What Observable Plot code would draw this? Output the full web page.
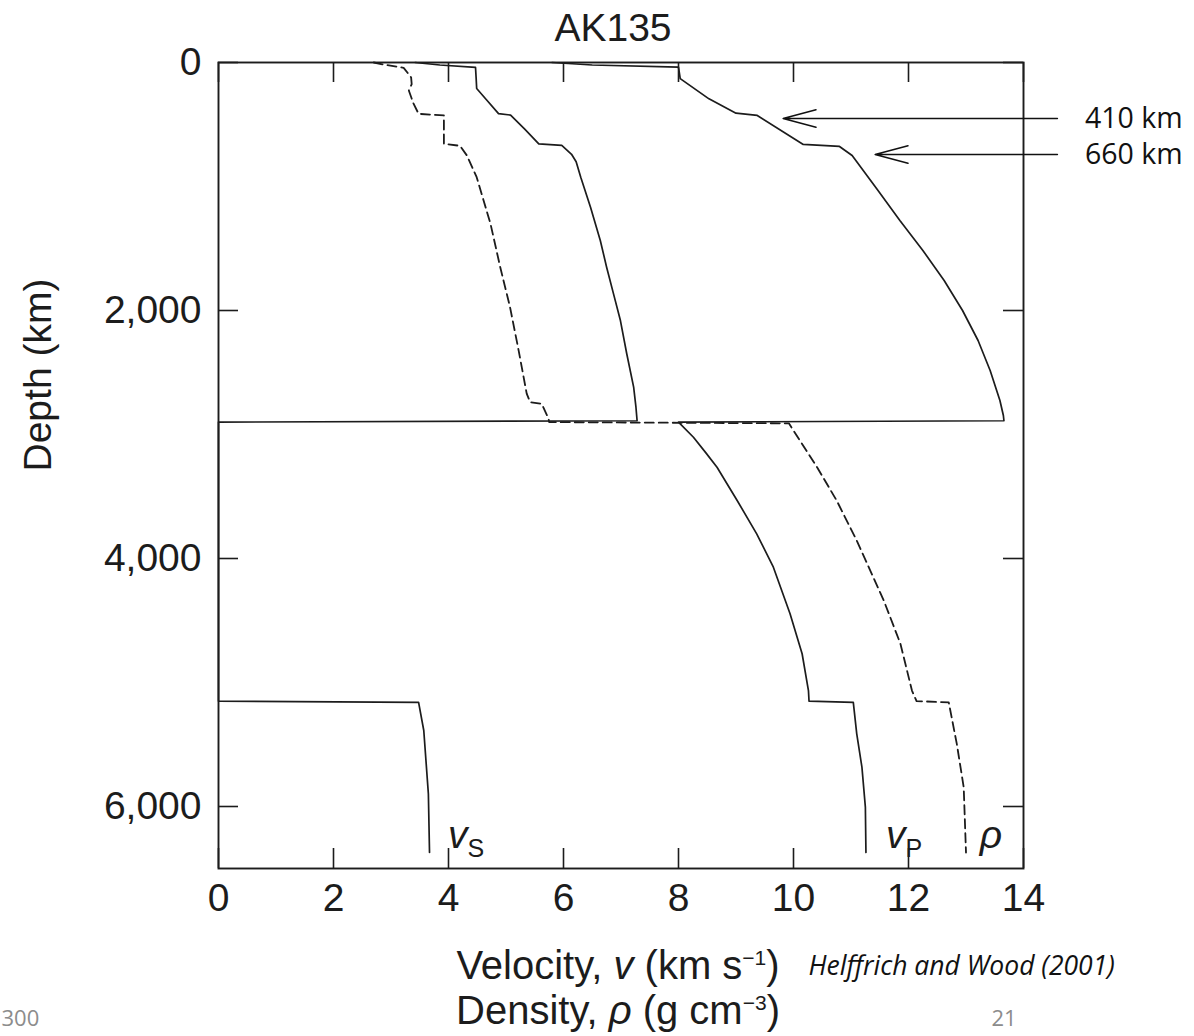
<!DOCTYPE html>
<html>
<head>
<meta charset="utf-8">
<script src="https://cdn.jsdelivr.net/npm/d3@7"></script>
<script src="https://cdn.jsdelivr.net/npm/@observablehq/plot@0.6"></script>
<style>
  html, body { margin: 0; padding: 0; background: #fff; }
  #chart svg { display: block; }
</style>
</head>
<body>
<div id="chart"></div>
<script>
// ---------- data ----------
const xTicks = [0, 2, 4, 6, 8, 10, 12, 14];
const yTicks = [0, 2000, 4000, 6000];

// [depth (km), value]
const vsProfile = [
  [0, 3.42], [20, 3.85], [40, 4.47], [120, 4.48], [210, 4.49], [300, 4.66], [412, 4.87], [424, 5.08],
  [540, 5.33], [656, 5.57], [669, 5.97], [740, 6.14], [800, 6.22], [925, 6.30], [1167, 6.47], [1435, 6.64],
  [1651, 6.75], [1866, 6.87], [2081, 6.99], [2349, 7.10], [2618, 7.22], [2780, 7.26], [2889, 7.28],
  [2900, 0], [5150, 0], [5160, 3.48], [5387, 3.57], [5898, 3.65], [6371, 3.67]
];
const vpProfile = [
  [0, 5.80], [20, 6.50], [38, 8.00], [130, 8.03], [293, 8.53], [409, 9.00], [427, 9.37], [661, 10.17],
  [677, 10.80], [750, 11.02], [1032, 11.47], [1274, 11.85], [1516, 12.25], [1758, 12.62], [2000, 12.94],
  [2242, 13.21], [2484, 13.42], [2726, 13.59], [2847, 13.65], [2889, 13.66], [2900, 8.00], [3022, 8.26],
  [3150, 8.48], [3264, 8.67], [3532, 9.02], [3801, 9.36], [4070, 9.65], [4446, 9.94], [4768, 10.15],
  [5065, 10.26], [5150, 10.27], [5160, 11.04], [5414, 11.10], [5683, 11.19], [6005, 11.25], [6371, 11.26]
];
const rhoProfile = [
  [0, 2.70], [15, 2.85], [43, 3.22], [120, 3.35], [175, 3.36], [226, 3.31], [330, 3.39], [414, 3.48],
  [427, 3.92], [656, 3.92], [672, 4.20], [750, 4.32], [925, 4.49], [1300, 4.73], [1651, 4.90],
  [1973, 5.07], [2323, 5.22], [2670, 5.36], [2740, 5.42], [2752, 5.62], [2873, 5.74], [2900, 5.75],
  [2910, 9.92], [3264, 10.41], [3532, 10.75], [3855, 11.10], [4339, 11.57], [4688, 11.86], [5065, 12.06],
  [5150, 12.14], [5160, 12.70], [5495, 12.84], [5844, 12.96], [6371, 13.00]
];

// curve labels: start x (value), baseline depth (km)
const curveLabels = [
  {x: 3.99, depth: 6335, parts: [{t: "v", italic: true}, {t: "S", size: 25, dy: 9}]},
  {x: 11.61, depth: 6335, parts: [{t: "v", italic: true}, {t: "P", size: 25, dy: 9}]},
  {x: 13.24, depth: 6335, parts: [{t: "ρ", italic: true}]}
];

// discontinuity annotations (arrows from the right margin to the vP curve)
const arrowNotes = [
  {label: "410 km", from: 14.59, to: 9.82, depth: 452, textX: 15.07},
  {label: "660 km", from: 14.59, to: 11.42, depth: 742, textX: 15.07}
];

const titleText = "AK135";
const yLabel = "Depth (km)";
const xLabelLine1 = [{t: "Velocity, "}, {t: "v", italic: true}, {t: " (km s"}, {t: "−1", size: 21, dy: -14}, {t: ")", dy: 14}];
const xLabelLine2 = [{t: "Density, "}, {t: "ρ", italic: true}, {t: " (g cm"}, {t: "−3", size: 21, dy: -14}, {t: ")", dy: 14}];
const sourceText = "Helffrich and Wood (2001)";
const footerLeft = "300";
const footerRight = "21";

// ---------- layout ----------
const W = 1194, H = 1036, ML = 218, MR = 171, MT = 62, MB = 168;
const plotW = W - ML - MR, plotH = H - MT - MB;
const tickLen = 20;
const ink = "#1c1c1c";
const sans = "'Liberation Sans', Arial, Helvetica, sans-serif";
const slideFont = "'Open Sans', 'Noto Sans', sans-serif";
const joinParts = parts => parts.map(p => p.t).join("");

const chart = Plot.plot({
  width: W, height: H,
  marginLeft: ML, marginRight: MR, marginTop: MT, marginBottom: MB,
  style: {fontFamily: sans, color: ink, background: "#fff"},
  x: {domain: [0, 14]},
  y: {domain: [0, 6500], reverse: true},
  marks: [
    Plot.line(vsProfile, {x: d => d[1], y: d => d[0], stroke: ink, strokeWidth: 1.7}),
    Plot.line(vpProfile, {x: d => d[1], y: d => d[0], stroke: ink, strokeWidth: 1.7}),
    Plot.line(rhoProfile, {x: d => d[1], y: d => d[0], stroke: ink, strokeWidth: 1.8, strokeDasharray: "9,5"}),
    Plot.frame({stroke: ink, strokeWidth: 1.9}),
    // inward ticks on all four sides
    Plot.tickX(xTicks, {x: d => d, insetTop: plotH - tickLen, stroke: ink, strokeWidth: 1.6}),
    Plot.tickX(xTicks, {x: d => d, insetBottom: plotH - tickLen, stroke: ink, strokeWidth: 1.6}),
    Plot.tickY(yTicks, {y: d => d, insetRight: plotW - tickLen, stroke: ink, strokeWidth: 1.6}),
    Plot.tickY(yTicks, {y: d => d, insetLeft: plotW - tickLen, stroke: ink, strokeWidth: 1.6}),
    Plot.axisX({anchor: "bottom", ticks: xTicks, tickSize: 0, tickPadding: 15, fontSize: 39, label: null}),
    Plot.axisY({anchor: "left", ticks: yTicks, tickSize: 0, tickPadding: 17, fontSize: 39,
      tickFormat: d3.format(","), label: null}),
    // title & axis labels
    Plot.text([titleText], {text: d => d, frameAnchor: "top", lineAnchor: "top", dx: -8, dy: -49, fontSize: 39, fill: ink}),
    Plot.text([yLabel], {text: d => d, frameAnchor: "left", rotate: -90, dx: -180, dy: 6, fontSize: 39, fill: ink}),
    Plot.text([joinParts(xLabelLine1)], {text: d => d, frameAnchor: "bottom", lineAnchor: "top", dx: -3, dy: 82, fontSize: 40, fill: ink}),
    Plot.text([joinParts(xLabelLine2)], {text: d => d, frameAnchor: "bottom", lineAnchor: "top", dx: -3, dy: 127, fontSize: 40, fill: ink}),
    // curve labels
    Plot.text(curveLabels, {x: "x", y: "depth", text: d => joinParts(d.parts), textAnchor: "start", lineAnchor: "bottom", fontSize: 39, fill: ink}),
    // annotations
    Plot.arrow(arrowNotes, {x1: "from", x2: "to", y1: "depth", y2: "depth", stroke: "#111", strokeWidth: 1.5, headLength: 34, headAngle: 30}),
    Plot.text(arrowNotes, {x: "textX", y: "depth", text: "label", textAnchor: "start", lineAnchor: "middle", fontFamily: slideFont, fontSize: 28.5, fill: "#111"}),
    Plot.text([sourceText], {text: d => d, frameAnchor: "bottom-right", textAnchor: "start", lineAnchor: "top", dx: -215, dy: 88, fontFamily: slideFont, fontStyle: "italic", fontSize: 26.5, fill: "#111"}),
    Plot.text([footerLeft], {text: d => d, frameAnchor: "bottom-left", textAnchor: "start", lineAnchor: "top", dx: -217, dy: 142, fontFamily: slideFont, fontSize: 22, fill: "#8c8c8c"}),
    Plot.text([footerRight], {text: d => d, frameAnchor: "bottom-right", textAnchor: "start", lineAnchor: "top", dx: -32, dy: 142, fontFamily: slideFont, fontSize: 22, fill: "#8c8c8c"})
  ]
});

// rich text: italics, sub- and superscripts
function richify(svg, parts) {
  const plain = joinParts(parts);
  d3.select(svg).selectAll("text")
    .filter(function () { return this.textContent === plain; })
    .each(function () {
      const t = d3.select(this);
      t.text(null);
      for (const p of parts) {
        const s = t.append("tspan").text(p.t);
        if (p.italic) s.attr("font-style", "italic");
        if (p.size) s.attr("font-size", p.size);
        if (p.dy) s.attr("dy", p.dy);
      }
    });
}
richify(chart, xLabelLine1);
richify(chart, xLabelLine2);
curveLabels.forEach(d => richify(chart, d.parts));

document.getElementById("chart").appendChild(chart);
</script>
</body>
</html>
